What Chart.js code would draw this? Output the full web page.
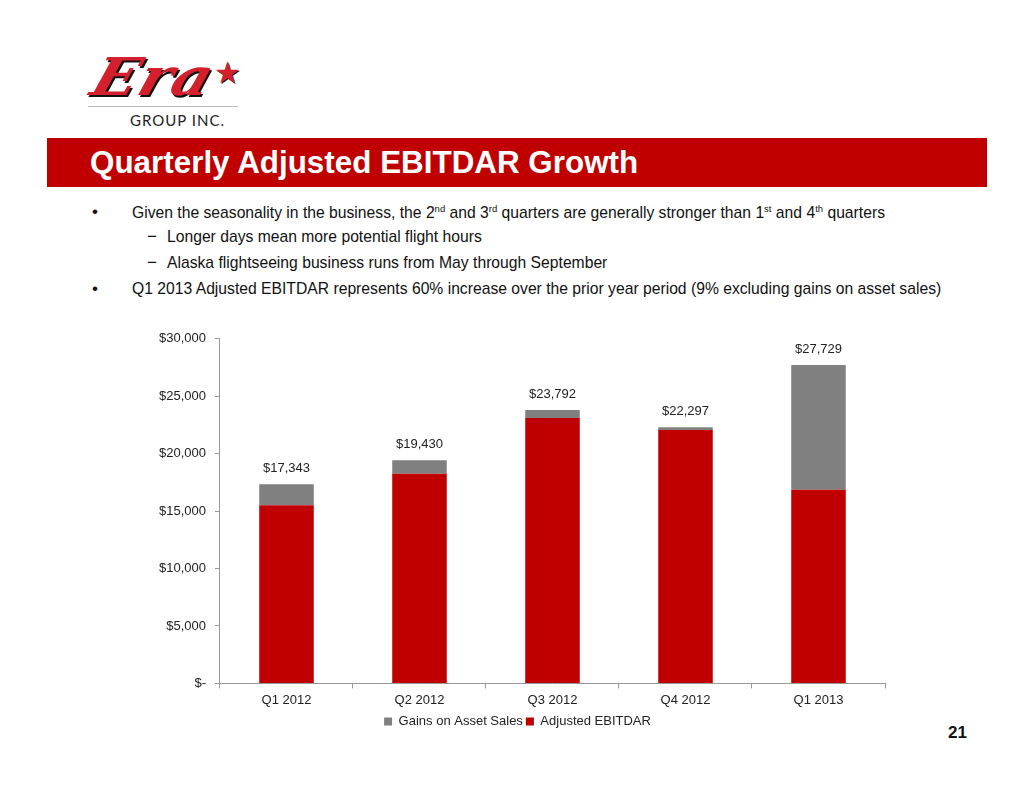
<!DOCTYPE html>
<html>
<head>
<meta charset="utf-8">
<script src="https://cdn.jsdelivr.net/npm/chart.js@4.4.0/dist/chart.umd.min.js"></script>
<style>
    body { margin: 0; background: #fff; font-family: "Liberation Sans", Arial, sans-serif; }
    #page { position: relative; width: 1034px; height: 799px; overflow: hidden; }
    .logo-era { position: absolute; left: 104px; top: 46px; font: italic bold 52px "DejaVu Serif", serif; color: #d4202c;
        letter-spacing: 1px; text-shadow: 2px 2px 0 #111; transform: skewX(-18deg) scaleX(1.15); transform-origin: left top; }
    .logo-star { position: absolute; left: 214px; top: 55px; font-size: 30px; color: #d4202c; text-shadow: 1px 1px 0 #111; }
    .logo-line { position: absolute; left: 88px; top: 106px; width: 150px; height: 1px; background: #bbb; }
    .logo-sub { position: absolute; left: 130px; top: 111px; font: 15px "Lato", "Open Sans", sans-serif; color: #222; letter-spacing: 1px; }
    .banner { position: absolute; left: 47px; top: 138px; width: 940px; height: 49px; background: #c00000; }
    .banner h1 { margin: 0; position: absolute; left: 43px; top: 7px; font: bold 31.4px "Liberation Sans", Arial, sans-serif; color: #fff; }
    .bl { position: absolute; font-size: 15.7px; color: #111; white-space: nowrap; }
    .bl sup { font-size: 9.5px; }
    .mark { position: absolute; font-size: 17px; color: #111; }
    .pnum { position: absolute; left: 948px; top: 723px; font: bold 17px "Liberation Sans", Arial, sans-serif; color: #111; }
    #chartBox { position: absolute; left: 150px; top: 322px; width: 745px; height: 416px; }
</style>
</head>
<body>
<div id="page">
    <div class="logo-era">Era</div>
    <div class="logo-star">&#9733;</div>
    <div class="logo-line"></div>
    <div class="logo-sub">GROUP INC.</div>

    <div class="banner"><h1>Quarterly Adjusted EBITDAR Growth</h1></div>

    <div class="mark" style="left:92px; top:202px;">&#8226;</div>
    <div class="bl" style="left:132px; top:203px;">Given the seasonality in the business, the 2<sup>nd</sup> and 3<sup>rd</sup> quarters are generally stronger than 1<sup>st</sup> and 4<sup>th</sup> quarters</div>
    <div class="mark" style="left:147px; top:227px;">&#8722;</div>
    <div class="bl" style="left:167px; top:228px;">Longer days mean more potential flight hours</div>
    <div class="mark" style="left:147px; top:253px;">&#8722;</div>
    <div class="bl" style="left:167px; top:254px;">Alaska flightseeing business runs from May through September</div>
    <div class="mark" style="left:92px; top:279px;">&#8226;</div>
    <div class="bl" style="left:132px; top:280px;">Q1 2013 Adjusted EBITDAR represents 60% increase over the prior year period (9% excluding gains on asset sales)</div>

    <div id="chartBox"><canvas id="chart"></canvas></div>

    <div class="pnum">21</div>
</div>

<script>
// Dữ liệu biểu đồ ($ nghìn)
var quarters = ['Q1 2012', 'Q2 2012', 'Q3 2012', 'Q4 2012', 'Q1 2013'];
var adjustedEbitdar = [15500, 18250, 23100, 22050, 16850];
var gainsOnAssetSales = [1843, 1180, 692, 247, 10879];
var yTicks = [0, 5000, 10000, 15000, 20000, 25000, 30000];

function formatMoney(v) {
    if (v === 0) return '$-';
    return '$' + v.toLocaleString('en-US');
}

// Nhãn tổng trên đầu cột
var totalsPlugin = {
    id: 'totals',
    afterDatasetsDraw: function(chart) {
        var ctx = chart.ctx;
        var top = chart.getDatasetMeta(1);
        ctx.save();
        ctx.font = '13px "Liberation Sans", Arial, sans-serif';
        ctx.fillStyle = '#222';
        ctx.textAlign = 'center';
        ctx.textBaseline = 'bottom';
        top.data.forEach(function(bar, i) {
            var total = adjustedEbitdar[i] + gainsOnAssetSales[i];
            ctx.fillText(formatMoney(total), bar.x, bar.y - 9);
        });
        ctx.restore();
    }
};

new Chart(document.getElementById('chart'), {
    type: 'bar',
    data: {
        labels: quarters,
        datasets: [
            {
                label: 'Adjusted EBITDAR',
                data: adjustedEbitdar,
                backgroundColor: '#c00000',
                borderWidth: 0
            },
            {
                label: 'Gains on Asset Sales',
                data: gainsOnAssetSales,
                backgroundColor: '#808080',
                borderWidth: 0
            }
        ]
    },
    options: {
        responsive: true,
        maintainAspectRatio: false,
        animation: false,
        datasets: { bar: { barPercentage: 0.41, categoryPercentage: 1 } },
        layout: { padding: { top: 4, right: 10 } },
        scales: {
            x: {
                stacked: true,
                grid: { display: true, drawOnChartArea: false, color: '#999', tickLength: 5 },
                border: { color: '#999' },
                ticks: { color: '#222', font: { family: '"Liberation Sans", Arial, sans-serif', size: 13 }, padding: 4 }
            },
            y: {
                stacked: true,
                min: 0,
                max: 30000,
                afterBuildTicks: function(axis) {
                    axis.ticks = yTicks.map(function(v) { return { value: v }; });
                },
                grid: { display: true, drawOnChartArea: false, color: '#999', tickLength: 5 },
                border: { color: '#999' },
                ticks: {
                    color: '#222',
                    font: { family: '"Liberation Sans", Arial, sans-serif', size: 13 },
                    padding: 9,
                    callback: function(v) { return formatMoney(v); }
                }
            }
        },
        plugins: {
            legend: {
                position: 'bottom',
                reverse: true,
                labels: {
                    boxWidth: 8,
                    boxHeight: 8,
                    padding: 3,
                    color: '#222',
                    font: { family: '"Liberation Sans", Arial, sans-serif', size: 13 }
                }
            },
            tooltip: { enabled: false }
        }
    },
    plugins: [totalsPlugin]
});
</script>
</body>
</html>
